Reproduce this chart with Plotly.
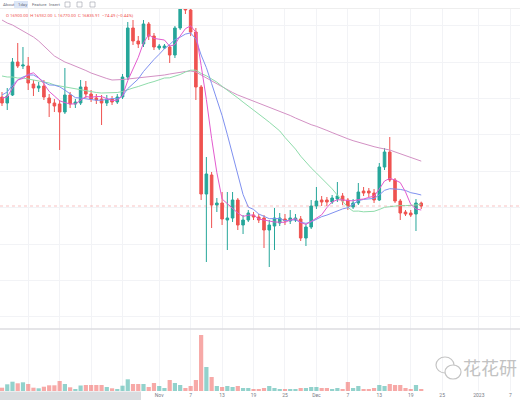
import plotly.graph_objects as go
import pandas as pd

# daily candles, 2 Oct - 21 Dec 2022 (prices)
DATES = pd.date_range("2022-10-02", "2022-12-21", freq="D")

OPEN = [19234, 19102, 19278, 20004, 19916, 19916, 19520, 19432, 19476, 19212,
        19102, 19080, 18904, 19278, 19080, 19102, 19454, 19300, 19212, 19190,
        19102, 19190, 19124, 19234, 19674, 20752, 20466, 20400, 20840, 20576,
        20312, 20312, 20334, 20158, 20752, 21280, 21148, 20664, 19454, 17100,
        17518, 16858, 16902, 16528, 16572, 16968, 16418, 16528, 16638, 16594,
        16572, 16308, 16396, 16462, 16550, 16506, 16528, 16550, 16132, 16374,
        16836, 16968, 16968, 16924, 16990, 17056, 16968, 16814, 16902, 17166,
        17166, 17122, 16968, 17694, 18024, 17408, 16946, 16704, 16682, 16660,
        16900.00]
HIGH = [19344, 19432, 20092, 20422, 20334, 20114, 19608, 19564, 19608, 19300,
        19190, 19168, 19872, 19344, 19190, 19608, 19586, 19388, 19300, 19278,
        19278, 19256, 19300, 19740, 20884, 20928, 20576, 20928, 20884, 20642,
        20400, 20400, 20378, 20796, 21368, 21412, 21236, 20752, 19498, 17914,
        17584, 17012, 17144, 17144, 17144, 17012, 16638, 16748, 16704, 16660,
        16638, 16528, 16792, 16682, 16660, 16748, 16660, 16616, 16440, 16968,
        17254, 17056, 17034, 17078, 17364, 17122, 17012, 16990, 17342, 17254,
        17232, 17210, 17782, 18112, 18354, 17452, 16990, 16748, 16748, 16990,
        16932.00]
LOW = [19036, 18948, 19256, 19872, 19850, 19388, 19256, 19344, 19168, 18794,
       18904, 18068, 18860, 18992, 18992, 19058, 19212, 19124, 19080, 18618,
       19036, 19058, 19080, 19190, 19608, 20378, 20312, 20334, 20488, 20268,
       20268, 20290, 19982, 20092, 20708, 21060, 20576, 19168, 16968, 15604,
       16352, 16704, 16418, 15868, 16484, 16308, 16220, 16484, 16528, 16462,
       15912, 15494, 15868, 16396, 16418, 16440, 16484, 16066, 15956, 16330,
       16770, 16836, 16836, 16880, 16924, 16858, 16748, 16770, 16858, 17056,
       17034, 16902, 16946, 17628, 17364, 16902, 16528, 16616, 16594, 16286,
       16770.00]
CLOSE = [19102, 19256, 20004, 19916, 19938, 19542, 19432, 19476, 19234, 19102,
         19036, 18904, 19278, 19080, 19124, 19454, 19300, 19190, 19168, 19102,
         19190, 19124, 19234, 19674, 20752, 20466, 20400, 20840, 20576, 20334,
         20356, 20356, 20158, 20752, 21280, 21148, 20664, 19454, 17100, 17540,
         16858, 16902, 16550, 16572, 16968, 16418, 16528, 16682, 16594, 16528,
         16308, 16418, 16572, 16572, 16506, 16572, 16572, 16132, 16374, 16836,
         16946, 16924, 16924, 17012, 17056, 16946, 16836, 16902, 17144, 17122,
         17122, 16968, 17694, 18024, 17408, 16946, 16682, 16660, 16638, 16902,
         16835.91]

# moving averages as drawn on the chart
MA5 = [19212, 19234, 19432, 19608, 19643, 19731, 19766, 19661, 19524, 19357,
       19256, 19150, 19111, 19080, 19082, 19166, 19245, 19227, 19245, 19243,
       19190, 19155, 19164, 19265, 19595, 19850, 20105, 20426, 20607, 20523,
       20499, 20488, 20352, 20387, 20576, 20737, 20800, 20660, 19929, 19181,
       18323, 17571, 16990, 16884, 16770, 16682, 16607, 16634, 16638, 16550,
       16528, 16506, 16484, 16480, 16475, 16528, 16559, 16471, 16431, 16497,
       16572, 16642, 16801, 16928, 16972, 16972, 16955, 16950, 16977, 16990,
       17025, 17052, 17210, 17386, 17443, 17408, 17351, 17146, 16871, 16770,
       16748]
MA10 = [19278, 19344, 19498, 19608, 19674, 19718, 19718, 19652, 19564, 19500,
        19494, 19458, 19386, 19302, 19220, 19211, 19198, 19169, 19162, 19162,
        19178, 19200, 19195, 19255, 19419, 19520, 19630, 19795, 19936, 20059,
        20174, 20297, 20389, 20497, 20550, 20618, 20644, 20506, 20158, 19879,
        19530, 19186, 18825, 18407, 17976, 17503, 17089, 16812, 16761, 16660,
        16605, 16557, 16559, 16559, 16513, 16528, 16532, 16477, 16455, 16486,
        16550, 16601, 16636, 16680, 16735, 16772, 16799, 16876, 16953, 16981,
        16999, 17003, 17080, 17181, 17217, 17217, 17201, 17178, 17129, 17107,
        17078]
MA30 = [19696, 19674, 19674, 19652, 19652, 19630, 19608, 19586, 19564, 19542,
        19498, 19476, 19454, 19432, 19410, 19388, 19366, 19344, 19333, 19322,
        19322, 19322, 19333, 19355, 19399, 19432, 19465, 19509, 19542, 19574,
        19615, 19652, 19656, 19685, 19729, 19784, 19824, 19824, 19751, 19700,
        19628, 19561, 19469, 19386, 19315, 19214, 19122, 19038, 18952, 18867,
        18770, 18680, 18592, 18488, 18345, 18215, 18088, 17932, 17791, 17674,
        17562, 17448, 17340, 17214, 17074, 16935, 16807, 16722, 16724, 16708,
        16717, 16719, 16759, 16807, 16821, 16838, 16845, 16844, 16845, 16858,
        16876]
MA60 = [20928, 20862, 20818, 20752, 20686, 20620, 20554, 20466, 20356, 20246,
        20136, 20070, 20004, 19960, 19916, 19872, 19817, 19762, 19718, 19674,
        19641, 19608, 19608, 19619, 19630, 19641, 19652, 19663, 19674, 19685,
        19696, 19718, 19740, 19762, 19784, 19795, 19806, 19784, 19718, 19652,
        19586, 19520, 19454, 19388, 19333, 19278, 19234, 19190, 19146, 19102,
        19058, 19014, 18970, 18926, 18882, 18827, 18772, 18717, 18673, 18625,
        18589, 18550, 18499, 18451, 18402, 18358, 18314, 18273, 18237, 18204,
        18174, 18141, 18114, 18097, 18068, 18026, 17982, 17940, 17899, 17861,
        17823]

VOLUME = [33, 67, 93, 77, 87, 70, 33, 27, 43, 57,
          57, 100, 70, 37, 20, 55, 60, 60, 60, 60,
          40, 27, 20, 53, 117, 70, 70, 70, 40, 80,
          50, 30, 110, 80, 60, 30, 50, 110, 560, 240,
          140, 50, 40, 50, 40, 50, 30, 30, 20, 20,
          30, 50, 30, 20, 20, 20, 20, 30, 30, 40,
          40, 30, 30, 20, 30, 20, 90, 30, 50, 20,
          20, 30, 60, 50, 70, 60, 60, 30, 20, 60,
          20]  # thousand

TICK_DATES = ["2022-10-07", "2022-10-13", "2022-10-19", "2022-10-25",
              "2022-11-01", "2022-11-07", "2022-11-13", "2022-11-19", "2022-11-25",
              "2022-12-01", "2022-12-07", "2022-12-13", "2022-12-19", "2022-12-25",
              "2023-01-01", "2023-01-07"]
TICK_TEXT = ["", "", "", "",
             "Nov", "7", "13", "19", "25",
             "Dec", "7", "13", "19", "25",
             "2023", "7"]

LEGEND_TEXT = "O 16900.00  H 16932.00  L 16770.00  C 16835.91  \u221274.49 (\u22120.44%)"
TOOLBAR = [("About", 1), ("1day", 16), ("Feature", 30), ("Insert", 47)]
WATERMARK = "花花研"

UP = "#26a69a"
DOWN = "#ef5350"
W, H = 520, 400


def px(x):
    return x / W


def py(y):
    return 1 - y / H


fig = go.Figure()
fig.add_trace(go.Candlestick(
    x=DATES, open=OPEN, high=HIGH, low=LOW, close=CLOSE,
    increasing=dict(line=dict(color=UP, width=1), fillcolor=UP),
    decreasing=dict(line=dict(color=DOWN, width=1), fillcolor=DOWN),
    whiskerwidth=0, showlegend=False, hoverinfo="skip",
))
for vals, col in [(MA60, "#d391c4"), (MA30, "#8fdcab"), (MA10, "#7f91f0"), (MA5, "#e35bcf")]:
    fig.add_trace(go.Scatter(
        x=DATES, y=vals, mode="lines",
        line=dict(color=col, width=1), showlegend=False, hoverinfo="skip",
    ))

vol_colors = ["rgba(38,166,154,0.5)" if c >= o else "rgba(239,83,80,0.5)"
              for o, c in zip(OPEN, CLOSE)]
fig.add_trace(go.Bar(
    x=DATES, y=[v * 1000 for v in VOLUME], yaxis="y2",
    marker=dict(color=vol_colors, line=dict(width=0)),
    showlegend=False, hoverinfo="skip",
))

grid = "#f2f3f6"
fig.update_layout(
    width=W, height=H,
    margin=dict(l=0, r=0, t=0, b=0),
    paper_bgcolor="white", plot_bgcolor="white",
    font=dict(family="Roboto, sans-serif", size=5, color="#787b86"),
    bargap=0.2,
    xaxis=dict(
        type="date", range=["2022-10-01 14:50", "2023-01-08 20:24"],
        rangeslider=dict(visible=False), anchor="y2",
        tickvals=TICK_DATES, ticktext=TICK_TEXT, ticks="",
        showgrid=True, gridcolor=grid, gridwidth=1,
        zeroline=False, showline=False,
        tickfont=dict(size=5, color="#787b86"),
    ),
    yaxis=dict(
        domain=[py(329), py(9)], range=[14130, 21170],
        showticklabels=False, showgrid=True, gridcolor=grid, dtick=800,
        zeroline=False,
    ),
    yaxis2=dict(
        domain=[py(391), py(329)], range=[0, 620000],
        showticklabels=False, showgrid=False, zeroline=False,
    ),
    shapes=[
        dict(type="line", xref="paper", yref="y", x0=0, x1=1,
             y0=CLOSE[-1], y1=CLOSE[-1],
             line=dict(color="rgba(239,83,80,0.35)", width=1, dash="dot")),
        dict(type="line", xref="paper", yref="paper", x0=0, x1=1,
             y0=py(329), y1=py(329), line=dict(color="#dcdde0", width=1.5)),
        dict(type="line", xref="paper", yref="paper", x0=0, x1=1,
             y0=py(8.5), y1=py(8.5), line=dict(color="#eeeeee", width=1)),
        dict(type="rect", xref="paper", yref="paper", x0=0, x1=px(141),
             y0=0, y1=py(391.5), fillcolor="#d9dcdf", line=dict(width=0),
             layer="above"),
        dict(type="rect", xref="paper", yref="paper", x0=px(14), x1=px(28),
             y0=py(8), y1=py(1), fillcolor="#dce6f7", line=dict(width=0)),
        # toolbar icons
        *[dict(type="rect", xref="paper", yref="paper", x0=px(x), x1=px(x + 5),
               y0=py(7), y1=py(2), line=dict(color="#9aa0a8", width=0.6))
          for x in (65, 77, 90)],
        # watermark logo
        dict(type="circle", xref="paper", yref="paper", x0=px(436), x1=px(454),
             y0=py(373), y1=py(357), line=dict(color="#c4c4c4", width=1.2)),
        dict(type="circle", xref="paper", yref="paper", x0=px(445), x1=px(461),
             y0=py(379), y1=py(365), line=dict(color="#c4c4c4", width=1.2),
             fillcolor="white"),
    ],
    annotations=[
        dict(text=LEGEND_TEXT, x=px(4), y=py(15.5), xref="paper", yref="paper",
             xanchor="left", yanchor="middle", showarrow=False,
             font=dict(size=4.3, color=DOWN)),
        *[dict(text=t, x=px(x), y=py(4.5), xref="paper", yref="paper",
               xanchor="left", yanchor="middle", showarrow=False,
               font=dict(size=4.3, color="#6a6d78"))
          for t, x in TOOLBAR],
        dict(text=WATERMARK, x=px(519), y=py(367), xref="paper", yref="paper",
             xanchor="right", yanchor="middle", showarrow=False,
             font=dict(family="Noto Sans CJK SC", size=18, color="#c2c2c2")),
    ],
)

# page body has a default 8px margin; drop it so the figure fills the window
fig.write_html("out.html", config={"displayModeBar": False},
               post_script="document.body.style.margin='0';")
